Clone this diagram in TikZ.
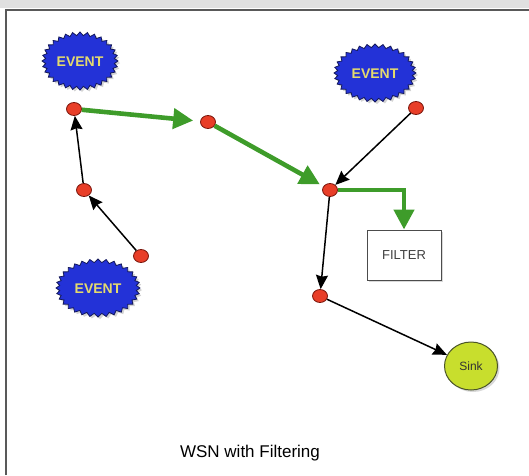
\documentclass[tikz,border=0pt]{standalone}
\usepackage{fontspec}
\setmainfont{Liberation Sans}
\usetikzlibrary{arrows.meta,shapes.geometric,shadows}

\definecolor{eventblue}{RGB}{35,50,215}
\definecolor{eventedge}{RGB}{20,25,90}
\definecolor{eventtext}{RGB}{228,218,110}
\definecolor{nodered}{RGB}{232,62,40}
\definecolor{nodeedge}{RGB}{120,20,10}
\definecolor{flowgreen}{RGB}{62,156,42}
\definecolor{sinkfill}{RGB}{200,222,45}
\definecolor{sinkedge}{RGB}{75,85,40}

% spiky burst outline around an event: centre, x radius, y radius
\newcommand\eventburst[3]{%
  \path[shift={(#1)}, draw=eventedge, fill=eventblue, line width=0.8pt,
        drop shadow={opacity=0.35, shadow xshift=2pt, shadow yshift=-2pt}]
    (0:#2 and #3)
    \foreach \k in {1,...,63}{ -- ({\k*5.625}:{#2-3.5*mod(\k,2)} and {#3-3.5*mod(\k,2)}) }
    -- cycle;}

\begin{document}
\begin{tikzpicture}[x=1pt, y=-1pt,
  sensor/.style={ellipse, draw=nodeedge, fill=nodered, line width=0.8pt,
                 minimum width=15pt, minimum height=13pt, inner sep=0pt},
  eventlabel/.style={font=\fontsize{14}{14}\selectfont\bfseries, text=eventtext, inner sep=0pt},
  flow/.style={draw=flowgreen, line width=4.6pt, -{Triangle[length=20pt,width=20pt]}},
  link/.style={draw=black, line width=1.5pt, -{Stealth[length=14pt,width=12pt,inset=1.5pt]}},
]
\useasboundingbox (0,0) rectangle (529,475);

% window frame
\fill[black!12] (0,0) rectangle (529,8);
\draw[line width=2pt, black!65] (5.5,475) -- (5.5,9.5) -- (529,9.5);

% events
\eventburst{80,61}{38}{29}
\node[eventlabel] (ev1) at (80,62) {EVENT};
\eventburst{375,73}{41}{29}
\node[eventlabel] (ev2) at (375,74) {EVENT};
\eventburst{98,288}{42}{29}
\node[eventlabel] (ev3) at (98,289) {EVENT};

% sensor nodes
\node[sensor] (a) at (74,109) {};
\node[sensor] (b) at (208,122) {};
\node[sensor] (c) at (330,190) {};
\node[sensor] (d) at (416,108) {};
\node[sensor] (e) at (84,190) {};
\node[sensor] (f) at (141,256) {};
\node[sensor] (g) at (320,296) {};

% filter and sink
\node[draw=black!70, fill=white, line width=1pt, minimum width=74pt, minimum height=50pt,
      drop shadow={opacity=0.3, shadow xshift=2pt, shadow yshift=-2pt},
      font=\fontsize{13}{13}\selectfont, text=black!75] (filter) at (404,255) {FILTER};
\node[ellipse, draw=sinkedge, fill=sinkfill, line width=1pt, minimum width=53pt, minimum height=48pt,
      drop shadow={opacity=0.3, shadow xshift=2pt, shadow yshift=-2pt},
      font=\fontsize{12}{12}\selectfont, text=black!80] (sink) at (471,366) {Sink};

% filtered data path
\draw[flow, shorten >=7pt] (a) -- (b);
\draw[flow, shorten >=4pt] (b) -- (c);
\draw[flow] (c.east) -| (filter.north);

% plain forwarding links
\draw[link] (e) -- (a);
\draw[link] (f) -- (e);
\draw[link] (d) -- (c);
\draw[link] (c) -- (g);
\draw[link] (g) -- (sink);

% caption
\node[font=\fontsize{17}{17}\selectfont] (caption) at (250,453) {WSN with Filtering};
\end{tikzpicture}
\end{document}
